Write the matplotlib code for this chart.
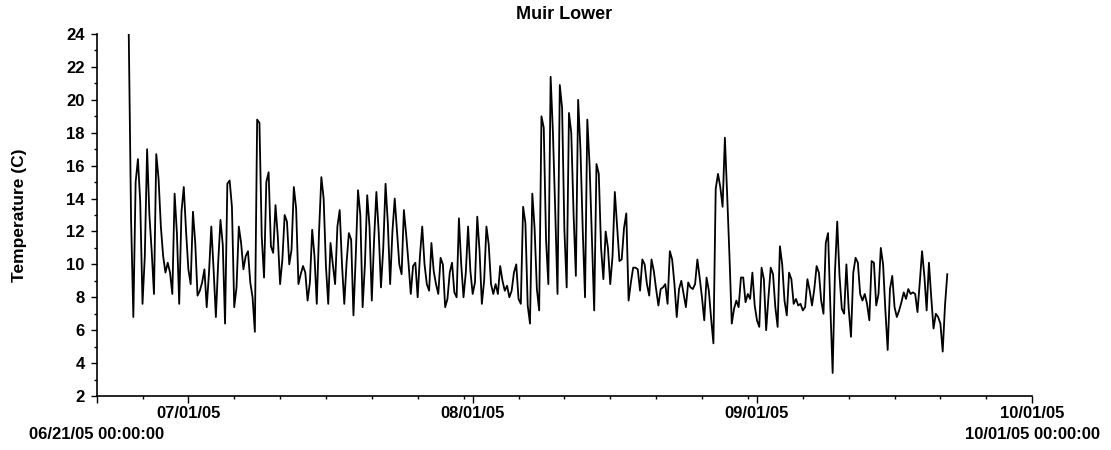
import matplotlib
matplotlib.use("Agg")
import matplotlib.pyplot as plt
import matplotlib.dates as mdates
import matplotlib.transforms as mtransforms
import pandas as pd

plt.rcParams['font.family'] = ['Liberation Sans', 'DejaVu Sans']
plt.rcParams['font.weight'] = 'bold'

# ---------------- data ----------------
title = "Muir Lower"
y_label = "Temperature (C)"
x_start = "2005-06-21 00:00"
x_end = "2005-10-01 00:00"
series_start = "2005-06-24 12:00"
sample_step = "6h"
major_ticks = ["2005-06-21", "2005-07-01", "2005-08-01", "2005-09-01", "2005-10-01"]
major_labels = ["", "07/01/05", "08/01/05", "09/01/05", "10/01/05"]
start_label = "06/21/05 00:00:00"
end_label = "10/01/05 00:00:00"
y_ticks = [2, 4, 6, 8, 10, 12, 14, 16, 18, 20, 22, 24]

# temperature (C), 6-hourly from 06/24/05 12:00 (values at 00,06,12,18 h)
temps = [
    24.0, 12.8,                       # 06/24 (12h, 18h)
    6.8, 15.0, 16.4, 13.8,            # 06/25
    7.6, 10.5, 17.0, 13.0,            # 06/26
    10.8, 8.2, 16.7, 15.2,            # 06/27
    12.3, 10.5, 9.5, 10.1,            # 06/28
    9.5, 8.2, 14.3, 11.9,             # 06/29
    7.6, 13.2, 14.7, 12.0,            # 06/30
    9.7, 8.8, 13.2, 11.3,             # 07/01
    8.1, 8.4, 8.9, 9.7,               # 07/02
    7.4, 9.5, 12.3, 9.7,              # 07/03
    6.8, 10.1, 12.7, 11.2,            # 07/04
    6.4, 14.9, 15.1, 13.5,            # 07/05
    7.4, 8.6, 12.3, 11.3,             # 07/06
    9.7, 10.5, 10.8, 8.9,             # 07/07
    8.0, 5.9, 18.8, 18.6,             # 07/08
    11.7, 9.2, 15.0, 15.6,            # 07/09
    11.1, 10.7, 13.6, 11.7,           # 07/10
    8.8, 10.3, 13.0, 12.6,            # 07/11
    10.0, 10.9, 14.7, 13.4,           # 07/12
    8.8, 9.4, 9.9, 9.5,               # 07/13
    7.8, 8.9, 12.1, 10.5,             # 07/14
    7.6, 12.0, 15.3, 14.0,            # 07/15
    9.9, 7.6, 11.3, 10.0,             # 07/16
    8.8, 12.3, 13.3, 10.0,            # 07/17
    7.6, 10.1, 11.9, 11.5,            # 07/18
    6.9, 10.5, 14.5, 13.0,            # 07/19
    7.4, 10.0, 14.2, 12.3,            # 07/20
    7.8, 11.5, 14.4, 12.0,            # 07/21
    8.6, 11.0, 14.9, 12.5,            # 07/22
    8.8, 12.0, 14.0, 12.0,            # 07/23
    10.0, 9.4, 13.3, 11.8,            # 07/24
    10.1, 8.2, 9.9, 10.1,             # 07/25
    8.0, 10.5, 12.3, 10.0,            # 07/26
    8.8, 8.4, 11.3, 9.6,              # 07/27
    8.8, 8.2, 10.4, 10.0,             # 07/28
    7.4, 7.9, 9.5, 10.1,              # 07/29
    8.3, 8.0, 12.8, 10.0,             # 07/30
    8.0, 9.5, 12.3, 9.6,              # 07/31
    8.2, 8.9, 12.9, 10.8,             # 08/01
    7.6, 9.0, 12.3, 11.2,             # 08/02
    8.8, 8.2, 8.8, 8.2,               # 08/03
    9.9, 9.0, 8.4, 8.7,               # 08/04
    8.0, 8.4, 9.5, 10.0,              # 08/05
    7.9, 7.6, 13.5, 12.5,             # 08/06
    7.5, 6.4, 14.3, 12.2,             # 08/07
    8.5, 7.2, 19.0, 18.3,             # 08/08
    11.5, 8.8, 21.4, 18.0,            # 08/09
    13.3, 8.2, 20.9, 19.5,            # 08/10
    12.1, 8.6, 19.2, 18.0,            # 08/11
    13.1, 9.3, 20.0, 17.0,            # 08/12
    12.1, 8.0, 18.8, 16.0,            # 08/13
    11.7, 7.2, 16.1, 15.5,            # 08/14
    11.0, 9.1, 12.0, 11.0,            # 08/15
    8.8, 10.5, 14.4, 12.3,            # 08/16
    10.2, 10.3, 12.2, 13.1,           # 08/17
    7.8, 8.9, 9.8, 9.8,               # 08/18
    9.7, 8.4, 10.3, 10.0,             # 08/19
    8.8, 8.1, 10.3, 9.6,              # 08/20
    8.5, 7.5, 8.5, 8.6,               # 08/21
    8.8, 7.6, 10.8, 10.3,             # 08/22
    8.8, 6.8, 8.5, 9.0,               # 08/23
    8.2, 7.4, 8.9, 8.6,               # 08/24
    8.5, 8.8, 10.3, 9.2,              # 08/25
    8.0, 6.6, 9.2, 8.4,               # 08/26
    6.7, 5.2, 14.6, 15.5,             # 08/27
    14.7, 13.5, 17.7, 14.2,           # 08/28
    10.5, 6.4, 7.3, 7.8,              # 08/29
    7.4, 9.2, 9.2, 7.7,               # 08/30
    8.2, 7.9, 9.5, 7.5,               # 08/31
    6.6, 6.2, 9.8, 9.1,               # 09/01
    6.0, 8.0, 9.8, 9.4,               # 09/02
    7.4, 6.2, 11.1, 10.0,             # 09/03
    7.8, 6.9, 9.5, 9.1,               # 09/04
    7.6, 7.9, 7.5, 7.6,               # 09/05
    7.2, 7.4, 9.1, 8.4,               # 09/06
    7.5, 8.5, 9.9, 9.5,               # 09/07
    7.8, 7.0, 11.3, 11.9,             # 09/08
    7.4, 3.4, 9.5, 12.6,              # 09/09
    9.3, 7.3, 7.0, 10.0,              # 09/10
    7.3, 5.6, 9.5, 10.4,              # 09/11
    10.1, 8.2, 7.8, 8.2,              # 09/12
    7.6, 6.6, 10.2, 10.1,             # 09/13
    7.5, 8.2, 11.0, 10.0,             # 09/14
    7.2, 4.8, 8.5, 9.3,               # 09/15
    7.4, 6.8, 7.2, 7.7,               # 09/16
    8.3, 7.9, 8.5, 8.2,               # 09/17
    8.3, 8.2, 7.1, 8.9,               # 09/18
    10.8, 9.3, 7.2, 10.1,             # 09/19
    8.0, 6.1, 7.0, 6.8,               # 09/20
    6.4, 4.7, 7.5, 9.4,               # 09/21
]

times = pd.date_range(series_start, periods=len(temps), freq=sample_step)

# ---------------- figure ----------------
fig = plt.figure(figsize=(11.11, 4.50), dpi=100)
ax = fig.add_axes([0.087, 0.12, 0.842, 0.8044])

ax.plot(times, temps, color='black', linewidth=1.3)

ax.set_xlim(pd.Timestamp(x_start), pd.Timestamp(x_end))
ax.set_ylim(2, 24)

ax.spines['top'].set_visible(False)
ax.spines['right'].set_visible(False)
for s in ('left', 'bottom'):
    ax.spines[s].set_linewidth(1.2)

ax.set_yticks(y_ticks)
ax.set_yticklabels([str(v) for v in y_ticks])
ax.yaxis.set_minor_locator(matplotlib.ticker.MultipleLocator(1))

ax.set_xticks([pd.Timestamp(d) for d in major_ticks])
ax.set_xticklabels(major_labels)
ax.xaxis.set_minor_locator(mdates.DayLocator(bymonthday=[6, 11, 16, 21, 26, 31]))

ax.tick_params(axis='both', which='major', direction='out', length=4.5, width=1.0,
               labelsize=12, color='black')
ax.tick_params(axis='x', which='major', length=5, pad=2.5)
ax.tick_params(axis='y', which='major', pad=4)
ax.tick_params(axis='both', which='minor', direction='out', length=2.5, width=1.0)

for lbl in ax.get_xticklabels() + ax.get_yticklabels():
    lbl.set_fontweight('bold')

trans = mtransforms.blended_transform_factory(ax.transData, ax.transAxes)
ax.text(pd.Timestamp(x_start), -0.086, start_label, transform=trans, ha='center',
        va='top', fontsize=12, fontweight='bold')
ax.text(pd.Timestamp(x_end), -0.086, end_label, transform=trans, ha='center',
        va='top', fontsize=12, fontweight='bold')

ax.set_title(title, fontsize=13, fontweight='bold', pad=11)
ax.set_ylabel(y_label, fontsize=12.5, fontweight='bold')
ax.yaxis.set_label_coords(-0.074, 0.5)

fig.savefig("out.png", dpi=100, facecolor='white')
